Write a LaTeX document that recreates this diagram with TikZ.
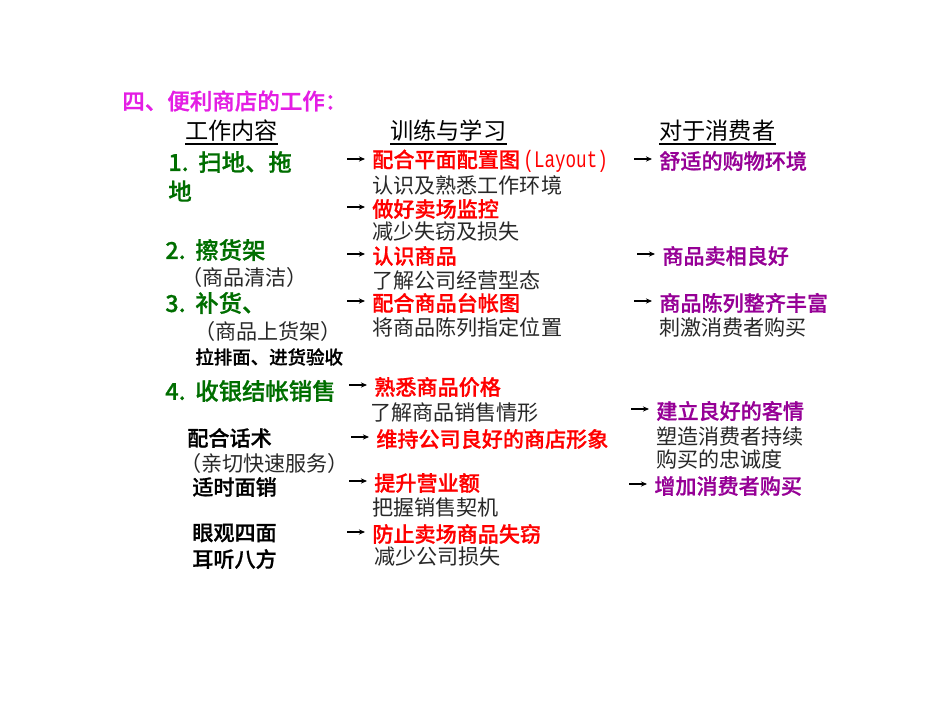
\documentclass[tikz,border=0pt]{standalone}
\usepackage{fontspec}
\usepackage{graphicx}
\newfontfamily\cjk[BoldFont={Noto Sans CJK SC Medium}, BoldFeatures={FakeBold=0.8}]{Noto Sans CJK SC}
\newfontfamily\latinmono{Liberation Mono}
\usetikzlibrary{arrows.meta}
\definecolor{titlemag}{RGB}{228,30,228}
\definecolor{taskgreen}{RGB}{0,110,0}
\definecolor{trainred}{RGB}{255,0,0}
\definecolor{gainpurple}{RGB}{150,0,150}
\definecolor{notegray}{RGB}{40,40,40}
\tikzset{
  txt/.style={anchor=west, inner sep=0pt},
  title/.style={txt, text=titlemag, font=\cjk\bfseries\fontsize{12.8}{14}\selectfont},
  header/.style={txt, font=\cjk\fontsize{13.2}{15}\selectfont},
  task/.style={txt, text=taskgreen, font=\cjk\bfseries\fontsize{13.3}{15}\selectfont},
  note/.style={txt, text=notegray, font=\cjk\fontsize{12}{14}\selectfont},
  sub/.style={txt, font=\cjk\bfseries\fontsize{12}{14}\selectfont},
  train/.style={txt, text=trainred, font=\cjk\bfseries\fontsize{12}{14}\selectfont},
  gain/.style={txt, text=gainpurple, font=\cjk\bfseries\fontsize{12}{14}\selectfont},
  pointer/.style={-{Stealth[length=3.5pt,width=3pt]}, line width=0.6pt}
}
\begin{document}
\begin{tikzpicture}[x=0.2mm, y=-0.2mm]
  \useasboundingbox (0,0) rectangle (950,713);
  \fill[white] (0,0) rectangle (950,713);

  % Title and headers
  \node[title] (ti) at (122,101) {四、便利商店的工作：};
  \node[header] (h1) at (185,131) {工作内容};
  \node[header] (h2) at (390,131) {训练与学习};
  \node[header] (h3) at (659,131) {对于消费者};
  \foreach \n in {h1,h2,h3}
    \draw[line width=0.8pt] ([yshift=-0.4mm]\n.south west) -- ([yshift=-0.4mm]\n.south east);

  % Work column
  \node[task] (w1) at (168,162) {\makebox[6mm][l]{1.}扫地、拖};
  \node[task] (w1b) at (168,191) {地};
  \node[task] (w2) at (165,250) {\makebox[6mm][l]{2.}擦货架};
  \node[note] (w2n) at (181,277) {（商品清洁）};
  \node[task] (w3) at (165,303) {\makebox[6mm][l]{3.}补货、};
  \node[note] (w3n) at (194,331) {（商品上货架）};
  \node[sub, font=\cjk\bfseries\fontsize{10.5}{12}\selectfont] (w3s) at (195,357) {拉排面、进货验收};
  \node[task] (w4) at (165,391) {\makebox[6mm][l]{4.}收银结帐销售};
  \node[sub] (w4a) at (187,438) {配合话术};
  \node[note] (w4n) at (180,463) {（亲切快速服务）};
  \node[sub] (w4b) at (192,487) {适时面销};
  \node[sub] (w4c) at (192,533) {眼观四面};
  \node[sub] (w4d) at (192,559) {耳听八方};

  % Training column
  \node[train] (t1) at (372,161) {配合平面配置图\,{\latinmono\mdseries\fontsize{10}{12}\selectfont\scalebox{1}[1.35]{(Layout)}}};
  \node[note] (d1) at (372,185) {认识及熟悉工作环境};
  \node[train] (t2) at (372,209) {做好卖场监控};
  \node[note] (d2) at (372,232) {减少失窃及损失};
  \node[train] (t3) at (372,256) {认识商品};
  \node[note] (d3) at (372,280) {了解公司经营型态};
  \node[train] (t4) at (372,303) {配合商品台帐图};
  \node[note] (d4) at (372,327) {将商品陈列指定位置};
  \node[train] (t5) at (374,387) {熟悉商品价格};
  \node[note] (d5) at (370,413) {了解商品销售情形};
  \node[train] (t6) at (376,439) {维持公司良好的商店形象};
  \node[train] (t7) at (374,483) {提升营业额};
  \node[note] (d7) at (372,507) {把握销售契机};
  \node[train] (t8) at (372,534) {防止卖场商品失窃};
  \node[note] (d8) at (374,557) {减少公司损失};

  % Consumer column
  \node[gain] (c1) at (659,161) {舒适的购物环境};
  \node[gain] (c2) at (662,256) {商品卖相良好};
  \node[gain] (c3) at (659,303) {商品陈列整齐丰富};
  \node[note] (e3) at (659,327) {刺激消费者购买};
  \node[gain] (c4) at (656,411) {建立良好的客情};
  \node[note] (e4) at (656,436) {塑造消费者持续};
  \node[note] (e4b) at (656,459) {购买的忠诚度};
  \node[gain] (c5) at (654,486) {增加消费者购买};

  % Arrows
  \foreach \n in {t1,t2,t3,t4,t5,t6,t7,t8,c1,c2,c3,c4,c5}
    \draw[pointer] ([xshift=-5mm,yshift=0.4mm]\n.west) -- ([xshift=-1.4mm,yshift=0.4mm]\n.west);
\end{tikzpicture}
\end{document}
